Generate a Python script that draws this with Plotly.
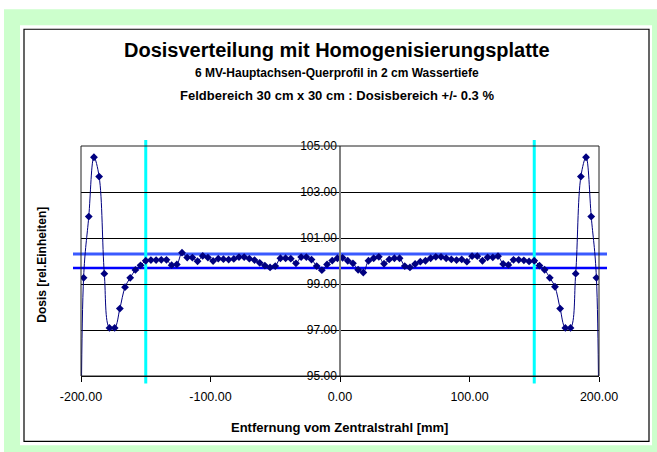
import plotly.graph_objects as go

# ---------------- data ----------------
positions_mm = [-200] + list(range(-198, 199, 4)) + [200]

dose_left_edge = [85.0, 99.27, 101.93, 104.51, 103.67, 99.45, 97.09, 97.09, 97.93, 98.86,
                  99.27, 99.61, 99.81, 100.01]
dose_middle = [100.04, 100.04, 100.05, 100.05, 99.82, 99.85, 100.36, 100.15, 100.15, 99.99,
               100.22, 100.15, 100.00, 100.10, 100.08, 100.06, 100.09, 100.17, 100.17, 100.10,
               100.04, 99.92, 99.80, 99.72, 99.78, 100.12, 100.12, 100.10, 99.90, 100.17,
               100.17, 100.06, 99.78, 99.60, 99.85, 100.02, 100.12,
               100.14, 100.01, 99.90, 99.62, 99.50, 100.01, 100.12, 100.18, 99.88, 100.07,
               100.12, 100.12, 99.78, 99.72, 99.87, 99.97, 100.01, 100.12, 100.18, 100.18,
               100.12, 100.07, 100.04, 100.07, 99.97, 100.21, 100.21, 100.01, 100.16, 100.16,
               100.21, 99.87, 99.83, 100.05, 100.05, 100.03, 99.98]
dose_right_edge = [100.01, 99.80, 99.62, 99.27, 98.88, 97.93, 97.09, 97.09, 99.45, 103.67,
                   104.51, 101.93, 99.27, 85.0]
dose_values = dose_left_edge + dose_middle + dose_right_edge

band_limits = [99.7, 100.3]
field_edges_mm = [-150, 150]

x_tick_values = [-200, -100, 0, 100, 200]
x_tick_labels = ["-200.00", "-100.00", "0.00", "100.00", "200.00"]
y_tick_values = [95, 97, 99, 101, 103, 105]
y_tick_labels = ["95.00", "97.00", "99.00", "101.00", "103.00", "105.00"]

title_lines = ["Dosisverteilung mit Homogenisierungsplatte",
               "6 MV-Hauptachsen-Querprofil in 2 cm Wassertiefe",
               "Feldbereich 30 cm x 30 cm : Dosisbereich +/- 0.3 %"]
x_title = "Entfernung vom Zentralstrahl [mm]"
y_title = "Dosis [rel.Einheiten]"

# ---------------- layout geometry ----------------
W, H = 657, 452
L, R, T, B = 81, 599, 146, 376.5
pw, ph = R - L, B - T


def px(xp):
    return (xp - L) / pw


def py(yp):
    return (B - yp) / ph


FONT = "Liberation Sans, Arial, sans-serif"

fig = go.Figure()
fig.add_trace(go.Scatter(
    x=positions_mm, y=dose_values, mode="lines+markers",
    line=dict(color="#000080", width=1, shape="spline", smoothing=1),
    marker=dict(symbol="diamond", size=6, color="#000080"),
    showlegend=False, hoverinfo="x+y"))

shapes = []
# green frame background, white chart area, black border
shapes.append(dict(type="rect", xref="paper", yref="paper", x0=px(4), x1=px(W + 2), y0=py(9), y1=py(H + 2),
                   fillcolor="#CCFFCC", line=dict(width=0), layer="below"))
shapes.append(dict(type="rect", xref="paper", yref="paper", x0=px(20), x1=px(652), y0=py(25), y1=py(446),
                   fillcolor="white", line=dict(width=0), layer="below"))
shapes.append(dict(type="rect", xref="paper", yref="paper", x0=px(24), x1=px(649), y0=py(29), y1=py(442),
                   fillcolor="rgba(0,0,0,0)", line=dict(color="black", width=1.2), layer="below"))
# plot area border
shapes.append(dict(type="rect", xref="paper", yref="paper", x0=0, x1=1, y0=0, y1=1,
                   line=dict(color="#202020", width=1), layer="above"))
# tolerance band lines
shapes.append(dict(type="line", xref="paper", yref="y", x0=px(73), x1=px(607),
                   y0=band_limits[1], y1=band_limits[1],
                   line=dict(color="#3a5aff", width=3), layer="between"))
shapes.append(dict(type="line", xref="paper", yref="y", x0=px(73), x1=px(607),
                   y0=band_limits[0], y1=band_limits[0],
                   line=dict(color="#0000ff", width=2.5), layer="between"))
# field edge lines
for fe in field_edges_mm:
    shapes.append(dict(type="line", xref="x", yref="paper", x0=fe, x1=fe, y0=py(384), y1=py(140),
                       line=dict(color="#00FFFF", width=3), layer="between"))

annotations = []
title_specs = [(title_lines[0], 20, 50), (title_lines[1], 12, 73), (title_lines[2], 13, 95)]
for txt, size, ypix in title_specs:
    annotations.append(dict(text="<b>%s</b>" % txt, x=px(336.5), y=py(ypix), xref="paper", yref="paper",
                            showarrow=False, xanchor="center", yanchor="middle",
                            font=dict(family=FONT, size=size, color="black")))
annotations.append(dict(text="<b>%s</b>" % x_title, x=px(339.5), y=py(428), xref="paper", yref="paper",
                        showarrow=False, xanchor="center", yanchor="middle",
                        font=dict(family=FONT, size=13, color="black")))
annotations.append(dict(text="<b>%s</b>" % y_title, x=px(42), y=py(265), xref="paper", yref="paper",
                        showarrow=False, xanchor="center", yanchor="middle", textangle=-90,
                        font=dict(family=FONT, size=12, color="black")))

fig.update_layout(
    width=W, height=H,
    margin=dict(l=L, r=W - R, t=T, b=H - B, autoexpand=False),
    paper_bgcolor="white", plot_bgcolor="white",
    font=dict(family=FONT, color="black"),
    shapes=shapes, annotations=annotations,
    xaxis=dict(range=[-200, 200], showgrid=False, zeroline=False,
               showline=True, linecolor="black", linewidth=1,
               ticks="outside", ticklen=5, tickcolor="black",
               tickvals=x_tick_values, ticktext=x_tick_labels,
               tickfont=dict(size=12.5, family=FONT), ticklabelstandoff=4),
    yaxis=dict(range=[95, 105], anchor="free", position=0.5,
               showgrid=True, gridcolor="black", gridwidth=1, zeroline=False,
               showline=True, linecolor="#808080", linewidth=1.5,
               ticks="", tickvals=y_tick_values, ticktext=y_tick_labels,
               tickfont=dict(size=12, family=FONT)),
)

fig.write_html("out.html", config={"displayModeBar": False},
               post_script="document.body.style.margin='0px';document.body.style.overflow='hidden';")
